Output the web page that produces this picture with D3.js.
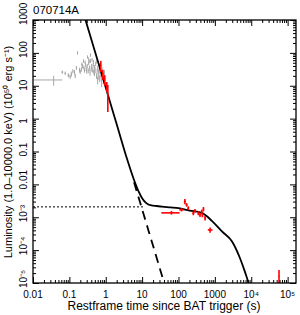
<!DOCTYPE html>
<html>
<head>
<meta charset="utf-8">
<script src="https://cdn.jsdelivr.net/npm/d3@7"></script>
<style>
  body { margin: 0; background: #fff; }
  text { font-family: "Liberation Sans", Arial, Helvetica, sans-serif; fill: #000; }
</style>
</head>
<body>
<div id="chart"></div>
<script>
var title = "070714A";
var xTitle = "Restframe time since BAT trigger (s)";
var yTitle = "Luminosity (1.0\u201310000.0 keV) (10\u2075\u2070 erg s\u207b\u00b9)";

var xTicks = [0.01, 0.1, 1, 10, 100, 1000, 1e4, 1e5];
var xTickLabels = ["0.01", "0.1", "1", "10", "100", "1000", "10\u2074", "10\u2075"];
var yTicks = [1e-5, 1e-4, 1e-3, 0.01, 0.1, 1, 10, 100, 1000];
var yTickLabels = ["10\u207b\u2075", "10\u207b\u2074", "10\u207b\u00b3", "0.01", "0.1", "1", "10", "100", "1000"];

// BAT points: [t, dt, L, dL]
var batPoints = [
  [0.037, 0.027, 15, 5],
  [0.064, 0.004, 26, 3], [0.077, 0.004, 24, 3], [0.094, 0.005, 21, 3],
  [0.105, 0.005, 19, 3], [0.114, 0.005, 23, 4], [0.125, 0.005, 28, 4],
  [0.138, 0.006, 26, 4], [0.145, 0.006, 20, 3], [0.156, 0.006, 35, 5],
  [0.167, 0.005, 100, 12], [0.19, 0.007, 30, 5], [0.2, 0.006, 27, 4],
  [0.215, 0.007, 32, 5], [0.22, 0.007, 45, 6], [0.23, 0.007, 40, 6],
  [0.245, 0.007, 57, 7], [0.25, 0.007, 36, 5], [0.26, 0.008, 30, 5],
  [0.27, 0.008, 52, 7], [0.28, 0.008, 43, 6], [0.29, 0.008, 33, 5],
  [0.30, 0.008, 28, 5], [0.31, 0.008, 40, 6], [0.316, 0.008, 75, 9],
  [0.33, 0.009, 29, 5], [0.34, 0.009, 49, 7], [0.34, 0.009, 65, 8],
  [0.35, 0.009, 55, 7], [0.36, 0.009, 35, 6], [0.37, 0.009, 25, 5],
  [0.38, 0.01, 57, 8], [0.38, 0.01, 86, 10], [0.40, 0.01, 33, 6],
  [0.41, 0.01, 40, 6], [0.42, 0.01, 62, 8], [0.435, 0.01, 30, 5],
  [0.45, 0.01, 42, 7], [0.46, 0.01, 53, 8], [0.47, 0.01, 27, 5],
  [0.49, 0.01, 37, 6], [0.49, 0.01, 24.5, 5], [0.51, 0.01, 30, 6],
  [0.53, 0.01, 46, 7], [0.55, 0.012, 55, 8], [0.56, 0.012, 20, 4],
  [0.58, 0.012, 28, 5], [0.60, 0.012, 35, 6], [0.60, 0.012, 15, 4],
  [0.62, 0.012, 19, 4], [0.64, 0.012, 26, 5], [0.66, 0.013, 31, 6],
  [0.68, 0.014, 17, 4], [0.68, 0.014, 40, 7], [0.70, 0.014, 28, 5],
  [0.73, 0.014, 23, 5], [0.75, 0.015, 18, 4], [0.77, 0.015, 13, 4],
  [0.80, 0.015, 22, 5], [0.83, 0.015, 30, 6], [0.86, 0.016, 15, 4],
  [0.88, 0.016, 20, 5], [0.92, 0.016, 25, 5]
];

// XRT points: [t, tLo, tHi, L, LLo, LHi]
var xrtPoints = [
  [0.73, 0.70, 0.76, 40, 26, 57],
  [0.83, 0.80, 0.86, 23, 15, 30],
  [0.94, 0.91, 0.97, 15, 9.9, 21],
  [1.07, 1.04, 1.10, 9.9, 6.5, 13],
  [1.14, 1.10, 1.18, 5.2, 1.6, 10.6],
  [64, 33.7, 107, 1.36e-3, 1.2e-3, 1.55e-3],
  [121, 105, 140, 1.68e-3, 1.5e-3, 1.9e-3],
  [150, 140, 160, 3.0e-3, 2.5e-3, 3.6e-3],
  [167, 158, 176, 2.38e-3, 2.1e-3, 2.7e-3],
  [186, 176, 196, 1.89e-3, 1.65e-3, 2.15e-3],
  [256, 240, 272, 1.33e-3, 1.15e-3, 1.5e-3],
  [284, 268, 300, 1.57e-3, 1.38e-3, 1.78e-3],
  [352, 335, 370, 1.33e-3, 1.15e-3, 1.52e-3],
  [391, 372, 410, 1.18e-3, 1.02e-3, 1.35e-3],
  [435, 415, 455, 1.49e-3, 1.3e-3, 1.7e-3],
  [485, 462, 508, 1.76e-3, 1.5e-3, 2.05e-3],
  [455, 435, 475, 1.18e-3, 1.0e-3, 1.35e-3],
  [538, 512, 565, 9.4e-4, 8.0e-4, 1.1e-3],
  [740, 640, 860, 4.1e-4, 3.4e-4, 4.9e-4],
  [58000, 56000, 60000, 1.58e-5, 1.0e-5, 2.5e-5]
];

// fitted model (total), steep component and plateau level
var modelT = [0.25, 0.5, 1, 2, 4, 6, 8, 10, 13, 18, 25, 35, 60, 100, 200, 435, 826, 1565, 2966, 4700, 6900, 8200, 9800];
var modelL = [1480, 114, 8.8, 0.675, 0.052, 0.0136, 0.0061, 0.0038, 0.0027, 0.0023, 0.0022, 0.0021, 0.002, 0.0019, 0.0016, 0.00136, 0.00078, 0.00037, 0.000183, 0.000064, 0.00002, 0.000011, 0.000005];
var steepT = [6, 8, 10, 15, 20, 30, 40, 50];
var steepL = [0.0116, 0.004, 0.00175, 0.00039, 0.000135, 0.00003, 0.0000103, 0.0000045];
var plateauL = 2.07e-3;
var plateauT = [0.01, 12];

var width = 300, height = 315;
var plotLeft = 33, plotRight = 296, plotTop = 20, plotBottom = 283;

var svg = d3.select("#chart")
  .append("svg")
    .attr("width", width)
    .attr("height", height);

var x = d3.scaleLog()
  .domain([0.01, 1.7e5])
  .range([plotLeft, plotRight]);
var y = d3.scaleLog()
  .domain([1e-5, 1000])
  .range([plotBottom, plotTop]);

svg.append("defs").append("clipPath")
    .attr("id", "plotclip")
  .append("rect")
    .attr("x", plotLeft).attr("y", plotTop)
    .attr("width", plotRight - plotLeft).attr("height", plotBottom - plotTop);

var plot = svg.append("g").attr("clip-path", "url(#plotclip)");

// BAT data (grey crosses)
var bat = plot.append("g")
  .attr("stroke", "#a8a8a8")
  .attr("stroke-width", 1);
batPoints.forEach(function(d) {
  bat.append("line")
    .attr("x1", x(d[0] - d[1])).attr("x2", x(d[0] + d[1]))
    .attr("y1", y(d[2])).attr("y2", y(d[2]));
  bat.append("line")
    .attr("x1", x(d[0])).attr("x2", x(d[0]))
    .attr("y1", y(d[2] - d[3])).attr("y2", y(d[2] + d[3]));
});

// plateau level
plot.append("line")
  .attr("x1", x(plateauT[0])).attr("x2", x(plateauT[1]))
  .attr("y1", y(plateauL)).attr("y2", y(plateauL))
  .attr("stroke", "#000")
  .attr("stroke-width", 1)
  .attr("stroke-dasharray", "2,2");

var line = d3.line()
  .x(function(d) { return x(d[0]); })
  .y(function(d) { return y(d[1]); })
  .curve(d3.curveMonotoneX);

plot.append("path")
  .datum(d3.zip(steepT, steepL))
  .attr("d", line)
  .attr("fill", "none")
  .attr("stroke", "#000")
  .attr("stroke-width", 1.8)
  .attr("stroke-dasharray", "9,6");

plot.append("path")
  .datum(d3.zip(modelT, modelL))
  .attr("d", line)
  .attr("fill", "none")
  .attr("stroke", "#000")
  .attr("stroke-width", 1.8);

// XRT data (red crosses)
var xrt = plot.append("g")
  .attr("stroke", "#ff0000")
  .attr("stroke-width", 1.6);
xrtPoints.forEach(function(d) {
  xrt.append("line")
    .attr("x1", x(d[1])).attr("x2", x(d[2]))
    .attr("y1", y(d[3])).attr("y2", y(d[3]));
  xrt.append("line")
    .attr("x1", x(d[0])).attr("x2", x(d[0]))
    .attr("y1", y(d[4])).attr("y2", y(d[5]));
});

// axes with inward ticks on all sides
var xMinor = [], yMinor = [];
xTicks.forEach(function(m) { d3.range(2, 10).forEach(function(k) { if (m * k < 1.7e5) xMinor.push(m * k); }); });
yTicks.forEach(function(m) { d3.range(2, 10).forEach(function(k) { if (m * k < 1000) yMinor.push(m * k); }); });

function axisPair(axisFn, scale, majors, minors, shift) {
  var g = svg.append("g").attr("transform", shift);
  g.append("g").call(axisFn(scale).tickValues(minors).tickSize(-3).tickFormat(""));
  g.append("g").call(axisFn(scale).tickValues(majors).tickSize(-6).tickFormat(""));
  g.selectAll(".domain").remove();
  g.selectAll("line").attr("stroke", "#000").attr("stroke-width", 1);
}
axisPair(d3.axisBottom, x, xTicks, xMinor, "translate(0," + plotBottom + ")");
axisPair(d3.axisTop, x, xTicks, xMinor, "translate(0," + plotTop + ")");
axisPair(d3.axisLeft, y, yTicks, yMinor, "translate(" + plotLeft + ",0)");
axisPair(d3.axisRight, y, yTicks, yMinor, "translate(" + plotRight + ",0)");

svg.append("rect")
  .attr("x", plotLeft).attr("y", plotTop)
  .attr("width", plotRight - plotLeft).attr("height", plotBottom - plotTop)
  .attr("fill", "none")
  .attr("stroke", "#000")
  .attr("stroke-width", 1.3);

// tick labels
svg.append("g").selectAll("text")
  .data(xTicks)
  .enter()
  .append("text")
    .attr("x", function(d) { return x(d); })
    .attr("y", 298)
    .attr("text-anchor", "middle")
    .style("font-size", "10px")
    .text(function(d, i) { return xTickLabels[i]; });

svg.append("g").selectAll("text")
  .data(yTicks)
  .enter()
  .append("text")
    .attr("transform", function(d) { return "translate(27," + (y(d) + 5) + ") rotate(-90)"; })
    .attr("text-anchor", "start")
    .style("font-size", "10px")
    .text(function(d, i) { return yTickLabels[i]; });

svg.append("text")
  .attr("x", plotLeft)
  .attr("y", 14)
  .style("font-size", "11.5px")
  .text(title);

svg.append("text")
  .attr("x", 164)
  .attr("y", 310)
  .attr("text-anchor", "middle")
  .style("font-size", "12px")
  .text(xTitle);

svg.append("text")
  .attr("transform", "translate(12,152) rotate(-90)")
  .attr("text-anchor", "middle")
  .style("font-size", "11px")
  .text(yTitle);
</script>
</body>
</html>
